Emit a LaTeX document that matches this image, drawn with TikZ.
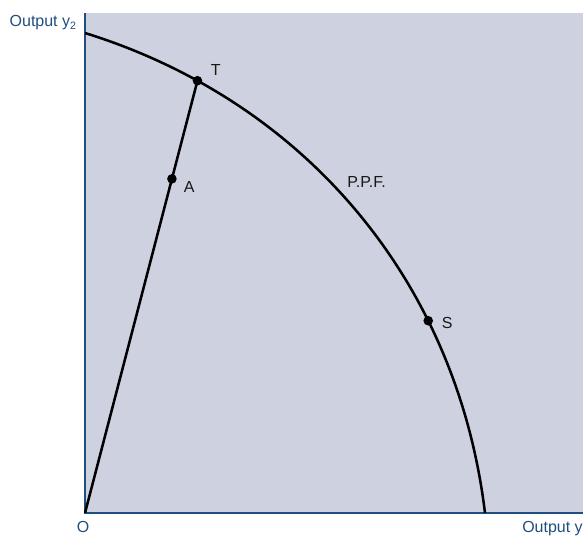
\documentclass[tikz,border=0pt]{standalone}
\usepackage{fontspec}
\setmainfont{Liberation Sans}
\usepackage{xcolor}
\usetikzlibrary{calc}

\definecolor{plotbg}{RGB}{205,209,224}
\definecolor{axisblue}{RGB}{31,78,128}
\definecolor{labelgray}{RGB}{25,25,25}

\begin{document}
\begin{tikzpicture}[x=0.75pt,y=0.75pt,yscale=-1,xscale=1,
  every node/.style={font=\fontsize{12}{14}\selectfont},
  ptdot/.style={circle,fill=black,inner sep=0pt,minimum size=7.2pt},
  axislabel/.style={text=axisblue,inner sep=0.75pt},
  ptlabel/.style={text=labelgray,inner sep=0.75pt}]
\useasboundingbox (0,0) rectangle (583,538);

%Shape: Rectangle [plot area]
\fill [plotbg] (85,13) rectangle (583,513);

\coordinate (O) at (85,513);
\coordinate (ytop) at (85,13);
\coordinate (xend) at (583,513);
\coordinate (ppftop) at (85,33);
\coordinate (ppfbot) at (485,513);

%Straight Lines [axes]
\draw [axisblue, line width=1.1pt] (ytop) -- (O) -- (xend);

%Curve Lines [P.P.F.]
\draw [line width=1.9pt] (ppftop) .. controls (306.6,101.9) and (457.2,282.6) .. (ppfbot)
  coordinate [pos=0.18] (t) coordinate [pos=0.7] (s);

%Straight Lines [ray from O]
\draw [line width=1.9pt] (O) -- (t);

%Shape: Circle
\node [ptdot] (T) at (t) {};
\node [ptdot] (A) at ($(O)!0.773!(t)$) {};
\node [ptdot] (S) at (s) {};

% Text Node
\node [axislabel, anchor=base east] (ylab) at (78,27) {Output y\textsubscript{2}};
% Text Node
\node [axislabel, anchor=base west] (xlab) at (521,533) {Output y\textsubscript{1}};
% Text Node
\node [axislabel, anchor=base] (olab) at (83,533) {O};
% Text Node
\node [ptlabel, anchor=west] (tlab) at (209.5,70) {T};
% Text Node
\node [ptlabel, anchor=west] (alab) at (182.5,187) {A};
% Text Node
\node [ptlabel, anchor=west] (slab) at (440.5,322.5) {S};
% Text Node
\node [ptlabel, anchor=west] (ppflab) at (346,182) {P.P.F.};

\end{tikzpicture}
\end{document}
